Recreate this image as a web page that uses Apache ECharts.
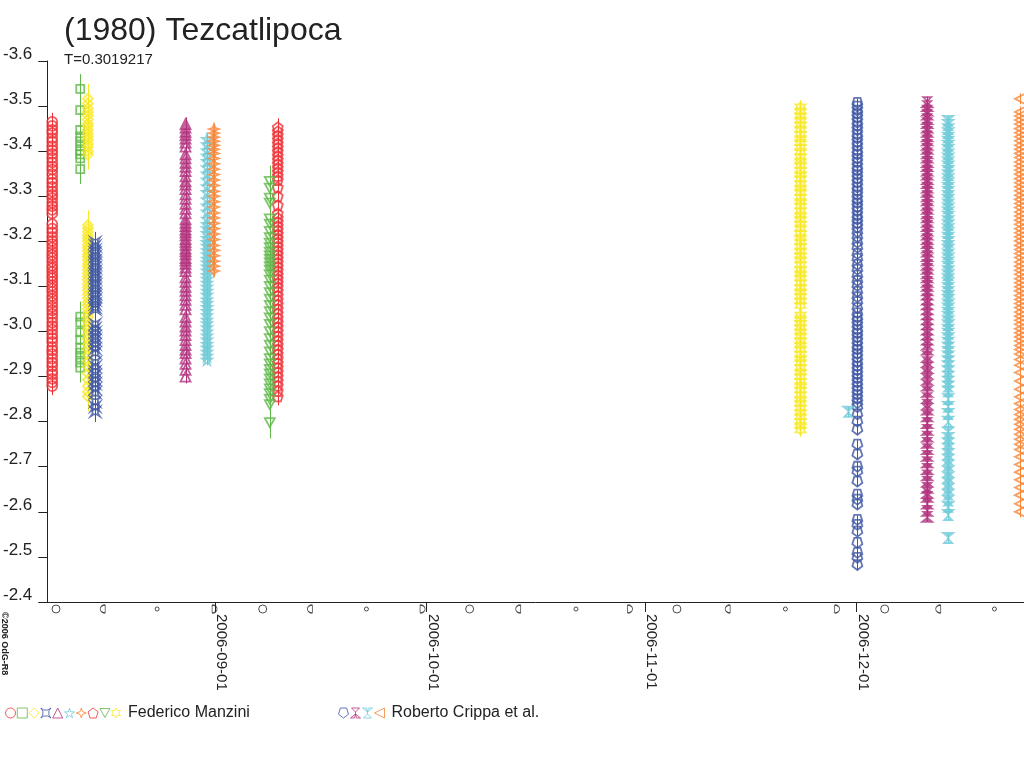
<!DOCTYPE html>
<html>
<head>
<meta charset="utf-8">
<script src="https://cdn.jsdelivr.net/npm/echarts@6/dist/echarts.min.js"></script>
<style>
  html, body { margin: 0; padding: 0; background: #fff; }
  #chart { width: 1024px; height: 768px; }
</style>
</head>
<body>
<div id="chart"></div>
<script>
// 坐标范围
var xMin = '2006-08-08 05:15'
var xMax = '2006-12-24 18:40'
var monthTicks = ['2006-09-01', '2006-10-01', '2006-11-01', '2006-12-01']

// 月相
var fullMoon = ['2006-08-09 10:54', '2006-09-07 18:42', '2006-10-07 03:13', '2006-11-05 12:58', '2006-12-05 00:25']
var lastQuarter = ['2006-08-16 01:51', '2006-09-14 11:15', '2006-10-14 00:26', '2006-11-12 17:45', '2006-12-12 14:32']
var newMoon = ['2006-08-23 19:10', '2006-09-22 11:45', '2006-10-22 05:14', '2006-11-20 22:18', '2006-12-20 14:01']
var firstQuarter = ['2006-08-31 22:56', '2006-09-30 11:04', '2006-10-29 21:25', '2006-11-28 06:29']

// Federico Manzini
var fmCircleTime = '2006-08-08 22:00'
var fmCircleMag = [-3.465, -3.456, -3.447, -3.44, -3.429, -3.421, -3.411, -3.402, -3.394, -3.385, -3.375, -3.366, -3.359, -3.349, -3.338, -3.33, -3.321, -3.311, -3.303, -3.296, -3.286, -3.278, -3.27, -3.262, -3.238, -3.228, -3.22, -3.21, -3.201, -3.194, -3.186, -3.177, -3.17, -3.163, -3.155, -3.146, -3.14, -3.132, -3.124, -3.118, -3.11, -3.102, -3.095, -3.088, -3.079, -3.072, -3.064, -3.055, -3.047, -3.039, -3.03, -3.02, -3.012, -3.004, -2.994, -2.985, -2.977, -2.966, -2.958, -2.95, -2.94, -2.931, -2.923, -2.912, -2.905, -2.895, -2.887, -2.879]
var fmCircleErr = 0.02

var fmSquareTime = '2006-08-12 21:30'
var fmSquareMag = [-3.538, -3.491, -3.447, -3.433, -3.422, -3.411, -3.4, -3.393, -3.384, -3.36, -3.033, -3.02, -2.998, -2.982, -2.964, -2.953, -2.942, -2.931, -2.92]
var fmSquareErr = 0.033

var fmDiamondTime = '2006-08-13 23:30'
var fmDiamondMag = [-3.516, -3.506, -3.495, -3.487, -3.479, -3.47, -3.461, -3.455, -3.447, -3.439, -3.432, -3.425, -3.416, -3.409, -3.4, -3.392, -3.236, -3.229, -3.221, -3.213, -3.207, -3.2, -3.192, -3.186, -3.179, -3.171, -3.165, -3.158, -3.15, -3.144, -3.137, -3.129, -3.122, -3.115, -3.106, -3.098, -3.091, -3.082, -3.074, -3.065, -3.058, -3.05, -3.04, -3.032, -3.023, -3.013, -3.004, -2.993, -2.983, -2.971, -2.96, -2.948, -2.934, -2.922, -2.907, -2.893, -2.879, -2.866, -2.856]
var fmDiamondErr = 0.033

var fmCurrencyTime = '2006-08-15 00:30'
var fmCurrencyMag = [-3.198, -3.19, -3.181, -3.174, -3.166, -3.157, -3.15, -3.142, -3.133, -3.126, -3.118, -3.109, -3.102, -3.094, -3.085, -3.078, -3.07, -3.061, -3.054, -3.049, -3.016, -3.007, -2.998, -2.989, -2.981, -2.972, -2.962, -2.953, -2.931, -2.922, -2.911, -2.903, -2.893, -2.884, -2.873, -2.864, -2.844, -2.833, -2.822]
var fmCurrencyErr = 0.023

var fmTriangleTime = '2006-08-27 20:00'
var fmTriangleMag = [-3.46, -3.452, -3.443, -3.436, -3.428, -3.419, -3.41, -3.393, -3.384, -3.374, -3.365, -3.356, -3.344, -3.333, -3.326, -3.316, -3.304, -3.294, -3.283, -3.272, -3.262, -3.249, -3.241, -3.234, -3.226, -3.22, -3.213, -3.205, -3.199, -3.192, -3.184, -3.178, -3.171, -3.163, -3.157, -3.15, -3.142, -3.134, -3.12, -3.11, -3.099, -3.09, -3.08, -3.07, -3.059, -3.049, -3.032, -3.022, -3.011, -3.002, -2.992, -2.981, -2.97, -2.96, -2.952, -2.94, -2.928, -2.915, -2.9]
var fmTriangleErr = 0.015

var fmStarTime = '2006-08-30 21:00'
var fmStarMag = [-3.427, -3.415, -3.402, -3.39, -3.378, -3.364, -3.35, -3.337, -3.322, -3.309, -3.293, -3.279, -3.266, -3.25, -3.238, -3.229, -3.218, -3.207, -3.198, -3.19, -3.18, -3.171, -3.161, -3.153, -3.144, -3.135, -3.125, -3.117, -3.108, -3.099, -3.09, -3.081, -3.071, -3.063, -3.054, -3.045, -3.036, -3.026, -3.018, -3.009, -3.0, -2.991, -2.982, -2.972, -2.964, -2.955, -2.946, -2.937]
var fmStarErr = 0.012

var fmSparkleTime = '2006-08-31 20:40'
var fmSparkleMag = [-3.449, -3.44, -3.431, -3.422, -3.413, -3.404, -3.395, -3.384, -3.372, -3.36, -3.348, -3.336, -3.324, -3.311, -3.3, -3.288, -3.276, -3.263, -3.252, -3.24, -3.228, -3.216, -3.204, -3.191, -3.18, -3.168, -3.156, -3.145, -3.134]
var fmSparkleErr = 0.012

var fmPentagonTime = '2006-09-09 22:00'
var fmPentagonMag = [-3.453, -3.444, -3.435, -3.426, -3.417, -3.408, -3.399, -3.39, -3.381, -3.372, -3.363, -3.354, -3.345, -3.336, -3.32, -3.3, -3.28, -3.262, -3.252, -3.243, -3.234, -3.225, -3.216, -3.207, -3.198, -3.189, -3.18, -3.171, -3.162, -3.153, -3.144, -3.135, -3.126, -3.117, -3.108, -3.099, -3.09, -3.08, -3.07, -3.06, -3.05, -3.04, -3.03, -3.02, -3.01, -3.0, -2.99, -2.98, -2.97, -2.96, -2.95, -2.94, -2.93, -2.92, -2.91, -2.9, -2.89, -2.88, -2.868, -2.856]
var fmPentagonErr = 0.02

var fmDownTriTime = '2006-09-08 18:45'
var fmDownTriMag = [-3.333, -3.318, -3.296, -3.285, -3.25, -3.238, -3.222, -3.208, -3.196, -3.186, -3.176, -3.168, -3.16, -3.152, -3.144, -3.136, -3.126, -3.114, -3.1, -3.086, -3.072, -3.058, -3.044, -3.03, -3.016, -3.0, -2.984, -2.97, -2.955, -2.94, -2.928, -2.916, -2.906, -2.895, -2.884, -2.873, -2.862, -2.85, -2.838, -2.798]
var fmDownTriErr = 0.035

var fmHexagramTime = '2006-11-23 01:40'
var fmHexagramMag = [-3.498, -3.489, -3.478, -3.469, -3.458, -3.449, -3.437, -3.428, -3.419, -3.408, -3.399, -3.387, -3.378, -3.369, -3.357, -3.348, -3.339, -3.327, -3.318, -3.309, -3.297, -3.288, -3.279, -3.267, -3.258, -3.249, -3.238, -3.229, -3.217, -3.208, -3.199, -3.188, -3.178, -3.168, -3.159, -3.148, -3.137, -3.128, -3.119, -3.108, -3.097, -3.088, -3.078, -3.068, -3.058, -3.036, -3.028, -3.018, -3.009, -2.999, -2.99, -2.979, -2.97, -2.961, -2.949, -2.94, -2.931, -2.919, -2.91, -2.9, -2.889, -2.88, -2.871, -2.859, -2.85, -2.841, -2.83, -2.82, -2.811, -2.8, -2.791, -2.782]
var fmHexagramErr = 0.015

// Roberto Crippa et al.
var crPentagonTime = '2006-12-01 03:20'
var crPentagonMag = [-3.507, -3.499, -3.49, -3.482, -3.473, -3.463, -3.455, -3.446, -3.436, -3.428, -3.419, -3.41, -3.4, -3.392, -3.383, -3.374, -3.364, -3.356, -3.347, -3.338, -3.329, -3.319, -3.311, -3.302, -3.292, -3.284, -3.275, -3.266, -3.256, -3.248, -3.239, -3.23, -3.22, -3.209, -3.197, -3.186, -3.172, -3.161, -3.148, -3.137, -3.124, -3.112, -3.101, -3.088, -3.076, -3.065, -3.052, -3.04, -3.03, -3.022, -3.013, -3.003, -2.995, -2.986, -2.977, -2.967, -2.959, -2.95, -2.941, -2.931, -2.922, -2.913, -2.904, -2.895, -2.886, -2.877, -2.868, -2.859, -2.85, -2.841, -2.832, -2.816, -2.8, -2.782, -2.749, -2.727, -2.7, -2.689, -2.667, -2.638, -2.627, -2.616, -2.582, -2.571, -2.556, -2.531, -2.509, -2.498, -2.482]
var crPentagonErr = 0.01

var crTrefoilTime = '2006-12-11 01:10'
var crTrefoilMag = [-3.509, -3.5, -3.49, -3.481, -3.471, -3.462, -3.452, -3.443, -3.433, -3.424, -3.414, -3.405, -3.395, -3.386, -3.376, -3.367, -3.357, -3.348, -3.338, -3.329, -3.319, -3.31, -3.3, -3.291, -3.281, -3.272, -3.262, -3.253, -3.243, -3.234, -3.224, -3.215, -3.205, -3.196, -3.186, -3.177, -3.167, -3.158, -3.148, -3.139, -3.129, -3.12, -3.11, -3.101, -3.091, -3.082, -3.071, -3.06, -3.049, -3.038, -3.027, -3.016, -3.004, -2.993, -2.982, -2.971, -2.96, -2.944, -2.932, -2.919, -2.906, -2.893, -2.88, -2.866, -2.852, -2.838, -2.827, -2.812, -2.797, -2.782, -2.767, -2.753, -2.739, -2.724, -2.71, -2.695, -2.681, -2.667, -2.653, -2.642, -2.633, -2.618, -2.602, -2.589]
var crTrefoilErr = 0.012

var crFanTime = '2006-12-14 00:30'
var crFanMag = [-3.467, -3.458, -3.449, -3.44, -3.43, -3.421, -3.412, -3.403, -3.393, -3.384, -3.375, -3.366, -3.356, -3.347, -3.338, -3.329, -3.319, -3.31, -3.301, -3.292, -3.282, -3.273, -3.264, -3.255, -3.245, -3.236, -3.227, -3.218, -3.208, -3.199, -3.19, -3.181, -3.171, -3.162, -3.153, -3.144, -3.134, -3.125, -3.116, -3.107, -3.097, -3.088, -3.079, -3.07, -3.06, -3.051, -3.042, -3.033, -3.023, -3.014, -3.004, -2.995, -2.985, -2.975, -2.965, -2.955, -2.945, -2.934, -2.923, -2.912, -2.9, -2.889, -2.878, -2.867, -2.85, -2.833, -2.817, -2.8, -2.776, -2.764, -2.752, -2.74, -2.728, -2.716, -2.703, -2.69, -2.677, -2.664, -2.651, -2.638, -2.625, -2.611, -2.593, -2.542]
var crFanTime2 = '2006-11-29 20:50'
var crFanMag2 = [-2.822]
var crFanErr = 0.012

var crLeftTriTime = '2006-12-24 04:50'
var crLeftTriMag = [-3.516, -3.487, -3.478, -3.469, -3.46, -3.45, -3.441, -3.432, -3.423, -3.413, -3.404, -3.395, -3.386, -3.376, -3.367, -3.358, -3.349, -3.339, -3.33, -3.321, -3.312, -3.302, -3.293, -3.284, -3.275, -3.265, -3.256, -3.247, -3.238, -3.228, -3.219, -3.21, -3.201, -3.191, -3.182, -3.173, -3.164, -3.154, -3.145, -3.136, -3.127, -3.117, -3.108, -3.099, -3.09, -3.08, -3.071, -3.062, -3.053, -3.043, -3.034, -3.025, -3.016, -3.006, -2.997, -2.988, -2.979, -2.969, -2.96, -2.95, -2.938, -2.925, -2.909, -2.89, -2.872, -2.855, -2.84, -2.827, -2.816, -2.805, -2.794, -2.783, -2.772, -2.761, -2.75, -2.738, -2.722, -2.705, -2.688, -2.671, -2.654, -2.637, -2.618, -2.6]
var crLeftTriErr = 0.012

// 颜色
var red = '#ee3338'
var green = '#5fb84a'
var yellow = '#f7e824'
var blue = '#3d56a5'
var purple = '#b1337e'
var cyan = '#6fcbd8'
var orange = '#f6873a'
var ink = '#222'
var font = 'Liberation Sans, Arial, sans-serif'

// 符号
var symPentagon = 'path://M5,0 L10,3.8 L8.1,10 L1.9,10 L0,3.8 Z'
var symPentagonDown = 'path://M1.9,0 L8.1,0 L10,6.2 L5,10 L0,6.2 Z'
var symStar = 'path://M5,0 L6.2,3.6 L10,3.6 L6.9,5.9 L8.1,9.5 L5,7.3 L1.9,9.5 L3.1,5.9 L0,3.6 L3.8,3.6 Z'
var symSparkle = 'path://M5,0 L6.3,3.7 L10,5 L6.3,6.3 L5,10 L3.7,6.3 L0,5 L3.7,3.7 Z'
var symHexagram = 'path://M5,0 L6.4,2.5 L9.3,2.5 L7.9,5 L9.3,7.5 L6.4,7.5 L5,10 L3.6,7.5 L0.7,7.5 L2.1,5 L0.7,2.5 L3.6,2.5 Z'
var symCurrency = 'path://M0,0 L3,2 L7,2 L10,0 L8,3 L8,7 L10,10 L7,8 L3,8 L0,10 L2,7 L2,3 Z'
var symDownTri = 'path://M0,0 L10,0 L5,9 Z'
var symLeftTri = 'path://M0,5 L10,0 L10,10 Z'
var symTrefoil = 'path://M1,0 L9,0 L5,4 Z M5,4 L5,6 M5,6 L0,10 L4,10 Z M5,6 L10,10 L6,10 Z'
var symFan = 'path://M1,10 L9,10 L5,6 Z M5,6 L5,4 M5,4 L0,0 L4,0 Z M5,4 L10,0 L6,0 Z'
var symLastQ = 'path://M5,0 L5,10 M5,0 A5,5 0 0 0 5,10'
var symFirstQ = 'path://M0,0 L0,10 M0,0 A5,5 0 0 1 0,10'

function ts(s) {
  return +echarts.time.parse(s)
}

function pad(n) {
  return n < 10 ? '0' + n : '' + n
}

// 散点
function dots(name, symbol, size, color, nights) {
  var data = []
  nights.forEach(function (n) {
    n[1].forEach(function (m) { data.push([ts(n[0]), m]) })
  })
  return {
    type: 'scatter',
    name: name,
    symbol: symbol,
    symbolSize: size,
    data: data,
    itemStyle: { color: 'rgba(0,0,0,0)', borderColor: color, borderWidth: 1.8 },
    emphasis: { disabled: true },
    z: 3
  }
}

// 误差线
function errBars(color, err, nights) {
  var data = []
  nights.forEach(function (n) {
    n[1].forEach(function (m) { data.push([ts(n[0]), m, err]) })
  })
  return {
    type: 'custom',
    silent: true,
    z: 2,
    data: data,
    encode: { x: 0, y: 1 },
    renderItem: function (params, api) {
      var t = api.value(0), m = api.value(1), e = api.value(2)
      var p1 = api.coord([t, m - e])
      var p2 = api.coord([t, m + e])
      var x = Math.round(p1[0]) + 0.5
      return {
        type: 'line',
        shape: { x1: x, y1: p1[1], x2: x, y2: p2[1] },
        style: { stroke: color, lineWidth: 1 }
      }
    }
  }
}

// 月相标记
function moon(symbol, size, times) {
  return {
    type: 'scatter',
    symbol: symbol,
    symbolSize: size,
    symbolOffset: [0, 7],
    clip: false,
    silent: true,
    data: times.map(function (t) { return [ts(t), -2.4] }),
    itemStyle: { color: 'rgba(0,0,0,0)', borderColor: ink, borderWidth: 1 },
    z: 1
  }
}

var fmNames = ['FM circle', 'FM square', 'FM diamond', 'FM currency', 'FM triangle', 'FM star', 'FM sparkle', 'FM pentagon', 'FM downtri', 'FM hexagram']
var crNames = ['CR pentagon', 'CR trefoil', 'CR fan', 'CR lefttri']

var series = [
  moon('circle', 8, fullMoon),
  moon(symLastQ, [5, 8], lastQuarter),
  moon('circle', 4, newMoon),
  moon(symFirstQ, [5, 8], firstQuarter),

  errBars(red, fmCircleErr, [[fmCircleTime, fmCircleMag]]),
  errBars(green, fmSquareErr, [[fmSquareTime, fmSquareMag]]),
  errBars(yellow, fmDiamondErr, [[fmDiamondTime, fmDiamondMag]]),
  errBars(blue, fmCurrencyErr, [[fmCurrencyTime, fmCurrencyMag]]),
  errBars(purple, fmTriangleErr, [[fmTriangleTime, fmTriangleMag]]),
  errBars(cyan, fmStarErr, [[fmStarTime, fmStarMag]]),
  errBars(orange, fmSparkleErr, [[fmSparkleTime, fmSparkleMag]]),
  errBars(red, fmPentagonErr, [[fmPentagonTime, fmPentagonMag]]),
  errBars(green, fmDownTriErr, [[fmDownTriTime, fmDownTriMag]]),
  errBars(yellow, fmHexagramErr, [[fmHexagramTime, fmHexagramMag]]),
  errBars(blue, crPentagonErr, [[crPentagonTime, crPentagonMag]]),
  errBars(purple, crTrefoilErr, [[crTrefoilTime, crTrefoilMag]]),
  errBars(cyan, crFanErr, [[crFanTime, crFanMag], [crFanTime2, crFanMag2]]),
  errBars(orange, crLeftTriErr, [[crLeftTriTime, crLeftTriMag]]),

  dots(fmNames[0], 'circle', 10, red, [[fmCircleTime, fmCircleMag]]),
  dots(fmNames[1], 'rect', 8, green, [[fmSquareTime, fmSquareMag]]),
  dots(fmNames[2], 'diamond', 10, yellow, [[fmDiamondTime, fmDiamondMag]]),
  dots(fmNames[3], symCurrency, 9, blue, [[fmCurrencyTime, fmCurrencyMag]]),
  dots(fmNames[4], 'triangle', 10, purple, [[fmTriangleTime, fmTriangleMag]]),
  dots(fmNames[5], symStar, 10, cyan, [[fmStarTime, fmStarMag]]),
  dots(fmNames[6], symSparkle, 10, orange, [[fmSparkleTime, fmSparkleMag]]),
  dots(fmNames[7], symPentagon, 10, red, [[fmPentagonTime, fmPentagonMag]]),
  dots(fmNames[8], symDownTri, [10, 9], green, [[fmDownTriTime, fmDownTriMag]]),
  dots(fmNames[9], symHexagram, 10, yellow, [[fmHexagramTime, fmHexagramMag]]),
  dots(crNames[0], symPentagonDown, 10, blue, [[crPentagonTime, crPentagonMag]]),
  dots(crNames[1], symTrefoil, 10, purple, [[crTrefoilTime, crTrefoilMag]]),
  dots(crNames[2], symFan, 10, cyan, [[crFanTime, crFanMag], [crFanTime2, crFanMag2]]),
  dots(crNames[3], symLeftTri, 10, orange, [[crLeftTriTime, crLeftTriMag]])
]

function legendBox(names, left, gap, label) {
  return {
    data: names,
    left: left,
    top: 705,
    padding: 0,
    itemWidth: 10,
    itemHeight: 10,
    itemGap: gap,
    selectedMode: false,
    itemStyle: { borderWidth: 1 },
    formatter: function (name) {
      return name === names[names.length - 1] ? label : ''
    },
    textStyle: { fontSize: 16, color: ink, fontFamily: font, padding: [0, 0, 0, 2] }
  }
}

var option = {
  animation: false,
  backgroundColor: '#fff',
  title: {
    text: '(1980) Tezcatlipoca',
    subtext: 'T=0.3019217',
    left: 64,
    top: 15,
    padding: 0,
    itemGap: 5,
    textStyle: { fontSize: 32, fontWeight: 'normal', color: ink, fontFamily: font },
    subtextStyle: { fontSize: 15, color: ink, fontFamily: font }
  },
  legend: [
    legendBox(fmNames, 5, 0.8, 'Federico Manzini'),
    legendBox(crNames, 338, 1, 'Roberto Crippa et al.')
  ],
  grid: { left: 45, right: 0, top: 61, bottom: 166 },
  xAxis: {
    type: 'value',
    min: ts(xMin),
    max: ts(xMax),
    axisLine: { show: true, onZero: false, lineStyle: { color: ink } },
    axisTick: {
      show: true,
      length: 10,
      customValues: monthTicks.map(ts),
      lineStyle: { color: ink }
    },
    axisLabel: {
      customValues: monthTicks.map(ts),
      rotate: -90,
      margin: 12,
      verticalAlign: 'bottom',
      lineHeight: 13,
      fontSize: 15,
      color: ink,
      fontFamily: font,
      formatter: function (v) {
        var d = new Date(v)
        return d.getFullYear() + '-' + pad(d.getMonth() + 1) + '-' + pad(d.getDate())
      }
    },
    splitLine: { show: false }
  },
  yAxis: {
    type: 'value',
    inverse: true,
    min: -3.6,
    max: -2.4,
    interval: 0.1,
    axisLine: { show: true, lineStyle: { color: ink } },
    axisTick: { show: true, length: 9, lineStyle: { color: ink } },
    splitLine: { show: false },
    axisLabel: {
      margin: 15,
      fontSize: 17,
      lineHeight: 14,
      color: ink,
      fontFamily: font,
      verticalAlign: 'bottom',
      formatter: function (v) { return v.toFixed(1) }
    }
  },
  graphic: [
    {
      type: 'text',
      x: 9,
      y: 612,
      rotation: -Math.PI / 2,
      style: { text: '©2006 OdG-R8', font: 'bold 9px Liberation Sans', fill: ink }
    }
  ],
  series: series
}

var myChart = echarts.init(document.getElementById('chart'))
myChart.setOption(option)
</script>
</body>
</html>
